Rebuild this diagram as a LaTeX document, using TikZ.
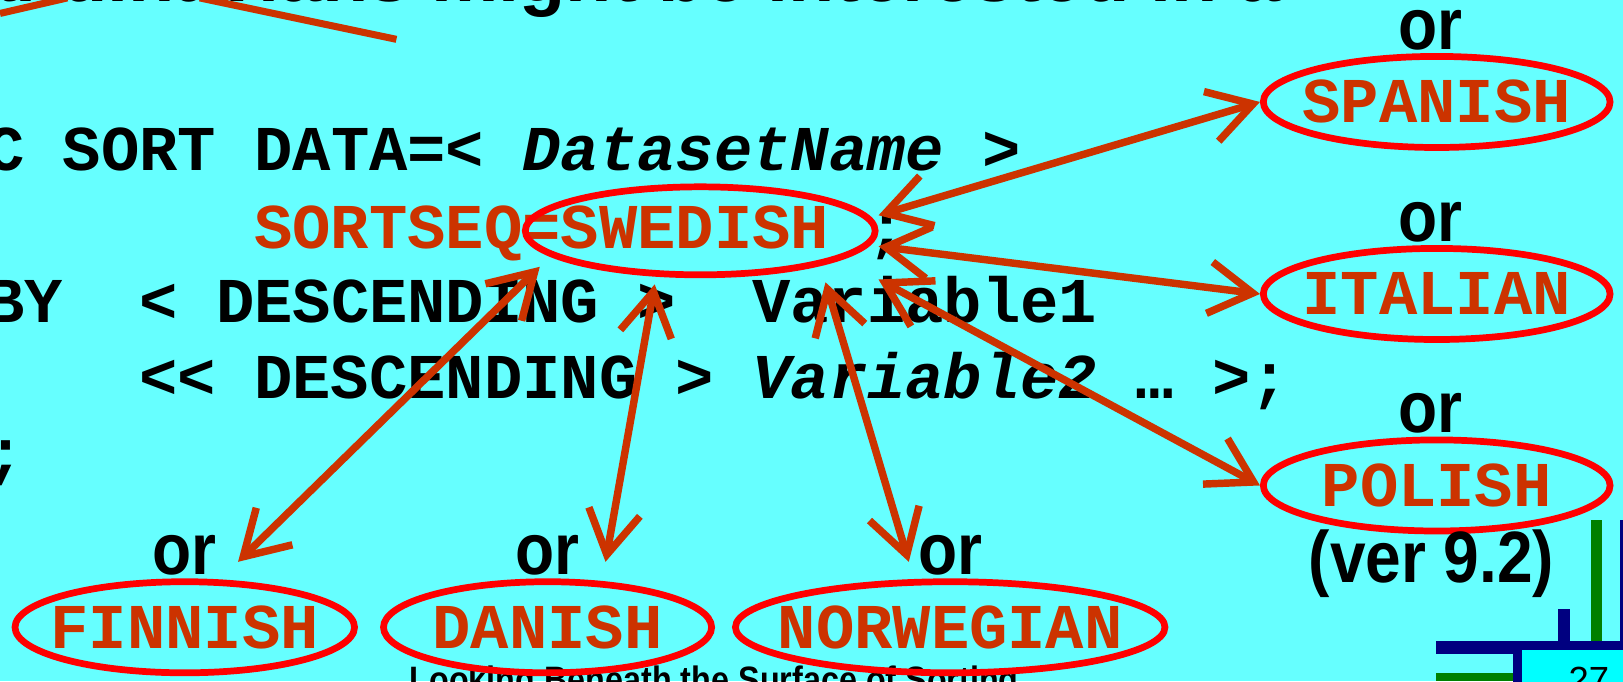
\documentclass[tikz,border=0pt]{standalone}
\usepackage{fontspec}
\usetikzlibrary{shapes.geometric,arrows.meta}
\newfontfamily\codefont{Liberation Mono}
\newfontfamily\slidefont[FakeStretch=0.88]{Liberation Sans}
\newfontfamily\plainfont{Liberation Sans}
\definecolor{slidebg}{HTML}{66FFFF}
\definecolor{rust}{HTML}{CC3300}
\definecolor{ringred}{HTML}{FF0000}
\definecolor{navy}{HTML}{000080}
\definecolor{leaf}{HTML}{008000}
\definecolor{aqua}{HTML}{00FFFF}
\tikzset{
  code/.style={
    anchor=base west,
    inner sep=0,
    font=\codefont\bfseries\fontsize{17.55}{20}\selectfont
  },
  ring/.style={
    shape=ellipse,
    draw=ringred,
    line width=0.065cm,
    minimum height=0.88cm,
    inner sep=0
  },
  lang/.style={
    text=rust,
    inner sep=0,
    font=\codefont\bfseries\fontsize{17.55}{20}\selectfont
  },
  orlabel/.style={
    inner sep=0.05cm,
    font=\slidefont\bfseries\fontsize{20}{24}\selectfont
  },
  link/.style={
    draw=rust,
    line width=0.072cm,
    >={Straight Barb[length=4.2mm,width=5mm]},
    <->
  },
  cut/.style={
    draw=rust,
    line width=0.068cm
  }
}
\begin{document}
\begin{tikzpicture}
    \useasboundingbox (0,0) rectangle (15.68,-6.58);
    \clip (0,0) rectangle (15.68,-6.58);
    \fill[slidebg] (0,0) rectangle (15.68,-6.58);
    % title line, cut off by the top edge
    \node[anchor=base east, inner sep=0, font=\plainfont\bfseries\fontsize{20.8}{24}\selectfont] (head) at (12.38,-0.01) {Scandinavians might be interested in a};
    \coordinate (cutA) at (0,-0.13);
    \coordinate (cutB) at (0.65,0.02);
    \coordinate (cutC) at (1.93,0.02);
    \coordinate (cutD) at (3.83,-0.38);
    \draw[cut] (cutA) -- (cutB);
    \draw[cut] (cutC) -- (cutD);
    % the SAS step
    \node[code] (l1) at (-1.25,-1.65) {PROC SORT DATA=< \textit{DatasetName} >};
    \node[code] (l2) at (2.45,-2.40) {\textcolor{rust}{SORTSEQ=SWEDISH}\ ;};
    \node[code] (l3) at (-0.14,-3.12) {BY\ \ < DESCENDING >\ \ Variable1};
    \node[code] (l4) at (1.34,-3.85) {<\kern0pt< DESCENDING > \textit{Variable2} … >;};
    \node[code] (l5) at (-1.25,-4.58) {RUN;};
    \node[anchor=base, inner sep=0, font=\slidefont\bfseries\fontsize{10.1}{12}\selectfont] (foot) at (6.90,-6.69) {Looking Beneath the Surface of Sorting};
    % choices
    \node[ring, minimum width=3.38cm, minimum height=0.85cm] (swe) at (6.765,-2.23) {};
    \foreach \name/\y/\lab in {spa/0.985/SPANISH, ita/2.84/ITALIAN, pol/4.69/POLISH}{
        \node[ring, minimum width=3.35cm] (\name) at (13.88,-\y) {};
        \node[lang] (\name-t) at (\name) {\lab};
        \node[orlabel] (\name-or) at ([shift={(-0.06,0.695)}]\name.center) {or};
    }
    \foreach \name/\x/\w/\lab in {fin/1.785/3.28/FINNISH, dan/5.29/3.17/DANISH, nor/9.18/4.15/NORWEGIAN}{
        \node[ring, minimum width=\w cm] (\name) at (\x,-6.06) {};
        \node[lang] (\name-t) at (\name) {\lab};
        \node[orlabel] (\name-or) at ([yshift=0.70cm]\name.center) {or};
    }
    \node[orlabel] (ver) at (13.83,-5.45) {(ver 9.2)};
    \draw[link] ([yshift=1.5mm]swe.east) -- (spa.west);
    \draw[link] ([yshift=-1.5mm]swe.east) -- (ita.west);
    \draw[link] ([yshift=-4.7mm]swe.east) -- (pol.west);
    \draw[link] ([xshift=12.1mm,yshift=-0.4mm]swe.south) -- ([shift={(-0.40,0.16)}]nor.north);
    \draw[link] ([xshift=-4.4mm,yshift=-0.6mm]swe.south) -- ([shift={(0.56,0.16)}]dan.north);
    \draw[link] ([xshift=-15.5mm,yshift=1.1mm]swe.south) -- ([shift={(0.515,0.16)}]fin.north);
    % page corner
    \fill[leaf] (15.37,-5.02) rectangle (15.48,-6.20);
    \fill[navy] (15.65,-5.02) rectangle (15.70,-6.58);
    \fill[navy] (15.05,-5.88) rectangle (15.17,-6.20);
    \fill[navy] (13.87,-6.19) rectangle (15.70,-6.32);
    \fill[leaf] (13.87,-6.50) rectangle (14.63,-6.58);
    \draw[navy, fill=aqua, line width=0.08cm] (14.66,-6.24) rectangle (15.9,-7.0);
    \node[inner sep=0, anchor=base, font=\plainfont\fontsize{10}{12}\selectfont] (page) at (15.35,-6.69) {27};
\end{tikzpicture}
\end{document}
